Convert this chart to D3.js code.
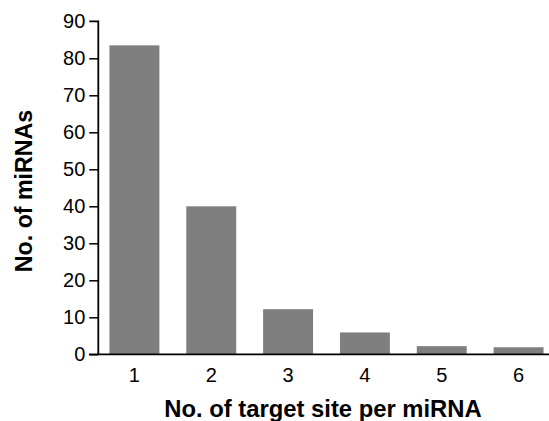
<!DOCTYPE html>
<html><head><meta charset="utf-8">
<script src="https://cdn.jsdelivr.net/npm/d3@7"></script>
<style>body{margin:0;background:#fff}svg{display:block}text{font-family:"Liberation Sans",Arial,sans-serif}</style>
</head><body>
<svg id="c" width="549" height="421"></svg>
<script>
const categories = ["1","2","3","4","5","6"];
const values = [83.5, 40, 12.2, 5.9, 2.2, 1.9];
const yTicks = [0,10,20,30,40,50,60,70,80,90];
const xTitle = "No. of target site per miRNA";
const yTitle = "No. of miRNAs";

const svg = d3.select("#c");
const x = d3.scaleBand().domain(categories).range([96, 557]).paddingInner(0.35).paddingOuter(0.175);
const y = d3.scaleLinear().domain([0, 90]).range([354.3, 21.3]);

svg.selectAll("rect.bar").data(values).enter().append("rect")
  .attr("x", (d,i)=>x(categories[i]))
  .attr("width", x.bandwidth())
  .attr("y", d=>y(d))
  .attr("height", d=>y(0)-y(d))
  .attr("fill", "#7f7f7f");

// y axis
const ya = svg.append("g").attr("transform","translate(98.3,0)")
  .call(d3.axisLeft(y).tickValues(yTicks).tickSize(9).tickPadding(4));
ya.select(".domain").attr("d", `M-9,${y(90)}H0V${y(0)}`).attr("stroke","#000").attr("stroke-width",1.8);
ya.selectAll(".tick line").attr("stroke","#000").attr("stroke-width",1.5);
ya.selectAll(".tick text").attr("font-size",20).attr("fill","#000").attr("font-family","Liberation Sans, Arial, sans-serif");
ya.selectAll(".tick").filter(d=>d===90).select("line").remove();

// x axis
const xa = svg.append("g").attr("transform",`translate(0,${y(0)})`)
  .call(d3.axisBottom(x).tickSize(0).tickPadding(14));
xa.select(".domain").attr("d", `M89,0H549`).attr("stroke","#000").attr("stroke-width",1.8);
xa.selectAll(".tick text").attr("font-size",20).attr("fill","#000").attr("font-family","Liberation Sans, Arial, sans-serif");

svg.append("text").attr("x", 323).attr("y", 416.5).attr("text-anchor","middle")
  .attr("font-size",23.8).attr("font-weight","bold").text(xTitle);
svg.append("text").attr("transform","translate(32,191) rotate(-90)").attr("text-anchor","middle")
  .attr("font-size",23.2).attr("font-weight","bold").text(yTitle);
</script>
</body></html>
